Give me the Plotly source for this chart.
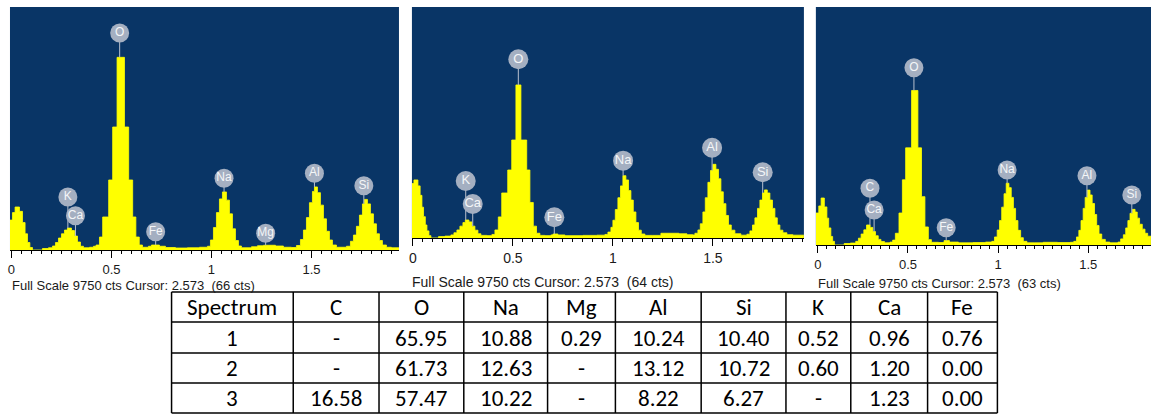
import numpy as np
import plotly.graph_objects as go

W, H = 1151, 414

# ---------------- spectrum data (energy keV step edges, counts) ----------------
E1 = [-0.0075, 0.005, 0.018, 0.04, 0.055, 0.068, 0.08, 0.092, 0.105, 0.155, 0.185, 0.205,
      0.22, 0.235, 0.25, 0.265, 0.28, 0.30, 0.315, 0.33, 0.345, 0.36, 0.39, 0.41,
      0.423, 0.44, 0.456, 0.486, 0.506, 0.528, 0.565, 0.586, 0.606, 0.622, 0.639, 0.655,
      0.685, 0.70, 0.74, 0.77, 0.82, 0.88, 0.94,
      0.98, 0.995, 1.01, 1.025, 1.04, 1.055, 1.075, 1.09, 1.105, 1.12, 1.135, 1.15,
      1.20, 1.23, 1.26, 1.32, 1.36, 1.40,
      1.425, 1.445, 1.46, 1.475, 1.49, 1.505, 1.515, 1.53, 1.545, 1.56, 1.575, 1.59, 1.605, 1.625,
      1.675, 1.695, 1.71, 1.725, 1.74, 1.755, 1.765, 1.78, 1.795, 1.81, 1.825, 1.84, 1.855, 1.875,
      1.90, 1.94]
C1 = [1200, 1500, 1725, 1550, 1100, 650, 300, 100, 0, 60, 90, 160,
      300, 480, 650, 800, 880, 780, 560, 320, 150, 90, 110, 150,
      200, 520, 1325, 2810, 4935, 7730, 4935, 2810, 1325, 520, 200, 110,
      150, 200, 150, 100, 80, 90, 110,
      150, 400, 900, 1500, 2050, 2330, 2000, 1450, 850, 380, 160, 90,
      130, 170, 190, 160, 110, 100,
      180, 420, 800, 1300, 1900, 2350, 2530, 2300, 1800, 1250, 750, 400, 200, 110,
      150, 350, 600, 950, 1400, 1850, 2030, 1850, 1450, 1050, 650, 380, 200, 110,
      90, 90]

E2 = [-0.005, 0.005, 0.025, 0.036, 0.045, 0.053, 0.062, 0.07, 0.08, 0.09, 0.128, 0.16,
      0.19, 0.205, 0.22, 0.235, 0.25, 0.262, 0.28, 0.295, 0.31, 0.325, 0.34, 0.37, 0.395,
      0.41, 0.427, 0.444, 0.474, 0.494, 0.515, 0.54, 0.569, 0.585, 0.602, 0.618, 0.635,
      0.66, 0.69, 0.70, 0.725, 0.76, 0.85, 0.92, 0.96,
      0.975, 0.99, 1.0, 1.012, 1.025, 1.038, 1.05, 1.065, 1.078, 1.09, 1.102, 1.115, 1.128, 1.142, 1.16,
      1.20, 1.24, 1.33, 1.37, 1.40,
      1.41, 1.425, 1.437, 1.45, 1.462, 1.475, 1.488, 1.50, 1.515, 1.528, 1.54, 1.552, 1.565, 1.578,
      1.592, 1.61, 1.64,
      1.67, 1.685, 1.698, 1.71, 1.723, 1.735, 1.748, 1.758, 1.772, 1.785, 1.798, 1.81, 1.822, 1.835,
      1.85, 1.87, 1.90, 1.955]
C2 = [2300, 2450, 2200, 1800, 1300, 900, 550, 300, 100, 0, 60, 80,
      130, 220, 340, 500, 650, 760, 680, 500, 330, 180, 110, 100, 150,
      340, 890, 1900, 2870, 4135, 6460, 4135, 2870, 1500, 500, 200, 110,
      100, 130, 170, 130, 100, 110, 120, 150,
      250, 450, 750, 1200, 1700, 2200, 2630, 2450, 2000, 1600, 1100, 650, 330, 170, 110,
      110, 200, 180, 140, 130,
      200, 340, 600, 1100, 1700, 2350, 2850, 3110, 2900, 2500, 1950, 1450, 950, 550,
      330, 180, 120,
      160, 300, 550, 850, 1250, 1600, 1900, 2030, 1900, 1600, 1250, 850, 550, 330,
      220, 140, 120, 120]

E3 = [-0.011, 0.005, 0.018, 0.036, 0.05, 0.06, 0.072, 0.082, 0.092, 0.146, 0.18,
      0.21, 0.225, 0.24, 0.255, 0.27, 0.29, 0.305, 0.32, 0.335, 0.35, 0.37, 0.40,
      0.415, 0.43, 0.45, 0.469, 0.487, 0.52, 0.555, 0.575, 0.594, 0.613, 0.63,
      0.67, 0.70, 0.73, 0.78, 0.86, 0.93,
      0.965, 0.98, 0.995, 1.008, 1.02, 1.033, 1.045, 1.06, 1.073, 1.085, 1.097, 1.11, 1.125, 1.14, 1.16,
      1.20, 1.25, 1.33, 1.40,
      1.42, 1.435, 1.448, 1.46, 1.472, 1.483, 1.495, 1.51, 1.522, 1.535, 1.547, 1.56, 1.575, 1.595, 1.62,
      1.665, 1.68, 1.695, 1.708, 1.72, 1.732, 1.745, 1.76, 1.772, 1.785, 1.80, 1.815, 1.83, 1.848]
C3 = [1310, 1600, 1925, 1560, 1100, 700, 350, 150, 0, 60, 80,
      150, 280, 450, 620, 820, 720, 550, 380, 230, 140, 90, 120,
      200, 480, 1310, 2670, 3980, 6330, 3980, 1980, 740, 220, 110,
      100, 180, 120, 90, 100, 120,
      150, 330, 615, 1000, 1550, 2100, 2530, 2350, 1950, 1500, 1000, 600, 300, 150, 90,
      90, 110, 100, 110,
      150, 330, 600, 1000, 1500, 1950, 2250, 2050, 1700, 1250, 800, 450, 230, 120, 90,
      120, 250, 420, 700, 1000, 1300, 1460, 1350, 1100, 850, 650, 480, 360, 290]

FULL_SCALE = 9750
CAPTIONS = ["Full Scale 9750 cts Cursor: 2.573  (66 cts)",
            "Full Scale 9750 cts Cursor: 2.573  (64 cts)",
            "Full Scale 9750 cts Cursor: 2.573  (63 cts)"]

# element markers per spectrum
LAB1 = ["O", "K", "Ca", "Fe", "Na", "Mg", "Al", "Si"]
LAB1_E = [0.541, 0.282, 0.320, 0.721, 1.063, 1.271, 1.515, 1.762]
LAB2 = ["O", "K", "Ca", "Fe", "Na", "Al", "Si"]
LAB2_E = [0.527, 0.264, 0.299, 0.707, 1.051, 1.496, 1.749]
LAB3 = ["O", "C", "Ca", "Fe", "Na", "Al", "Si"]
LAB3_E = [0.533, 0.289, 0.312, 0.712, 1.050, 1.493, 1.742]

# ---------------- table data ----------------
TABLE_HEADER = ["Spectrum", "C", "O", "Na", "Mg", "Al", "Si", "K", "Ca", "Fe"]
ROW1 = ["1", "-", "65.95", "10.88", "0.29", "10.24", "10.40", "0.52", "0.96", "0.76"]
ROW2 = ["2", "-", "61.73", "12.63", "-", "13.12", "10.72", "0.60", "1.20", "0.00"]
ROW3 = ["3", "16.58", "57.47", "10.22", "-", "8.22", "6.27", "-", "1.23", "0.00"]

# ---------------- layout (pixel geometry) ----------------
PANELS = [
    dict(l=7, r=397, t=7, b=250, x0=8.5, k=200.5, E=E1, C=C1, lab=LAB1, labE=LAB1_E,
         labY=[8707, 2127, 1376, 734, 2877, 670, 3077, 2580], msize=19, fs=12, cap=(7, 285)),
    dict(l=410, r=803, t=7, b=238, x0=411, k=200.5, E=E2, C=C2, lab=LAB2, labE=LAB2_E,
         labY=[7543, 2406, 1435, 874, 3263, 3811, 2773], msize=20, fs=13, cap=(408, 281.5)),
    dict(l=815, r=1151, t=7, b=245, x0=817, k=180.7, E=E3, C=C3, lab=LAB3, labE=LAB3_E,
         labY=[7263, 2323, 1434, 709, 3072, 2839, 2048], msize=19, fs=12, cap=(815, 283)),
]

BLUE = "#093566"
YELLOW = "#ffff00"

fig = go.Figure()
annotations = []
shapes = []

for i, p in enumerate(PANELS):
    n = "" if i == 0 else str(i + 1)
    xa, ya = "x" + n, "y" + n
    xr = [(p["l"] - p["x0"]) / p["k"], (p["r"] - p["x0"]) / p["k"]]
    fig.add_trace(go.Scatter(x=p["E"], y=p["C"], mode="lines",
                             line=dict(color=YELLOW, width=0.8, shape="hv"),
                             fill="tozeroy", fillcolor=YELLOW, xaxis=xa, yaxis=ya,
                             hoverinfo="skip"))
    lx, ly = [], []
    E_arr = np.array(p["E"]); C_arr = np.array(p["C"])
    for e, yv in zip(p["labE"], p["labY"]):
        idx = np.searchsorted(E_arr, e, side="right") - 1
        top = C_arr[max(idx, 0)]
        lx += [e, e, None]
        ly += [yv, top, None]
    fig.add_trace(go.Scatter(x=lx, y=ly, mode="lines", line=dict(color="#b9c1ce", width=1),
                             xaxis=xa, yaxis=ya, hoverinfo="skip"))
    fig.add_trace(go.Scatter(x=p["labE"], y=p["labY"], mode="markers+text", text=p["lab"],
                             textposition="middle center",
                             textfont=dict(color="#f4f6f8", size=p["fs"], family="Liberation Sans"),
                             marker=dict(size=p["msize"], color="#a4afc1", line=dict(width=0)),
                             xaxis=xa, yaxis=ya, hoverinfo="skip"))
    xkey = "xaxis" + n
    ykey = "yaxis" + n
    fig.update_layout(**{
        xkey: dict(domain=[p["l"] / W, p["r"] / W], range=xr, anchor=ya,
                   showline=True, linecolor="black", linewidth=1, showgrid=False, zeroline=False,
                   ticks="outside", ticklen=7, tickcolor="black", tickwidth=1,
                   tick0=0, dtick=0.5,
                   minor=dict(dtick=0.05, tick0=0, ticks="outside", ticklen=3, tickcolor="black"),
                   tickfont=dict(family="Liberation Sans", size=p["fs"] + 1, color="#1a1a1a"),
                   fixedrange=True),
        ykey: dict(domain=[1 - p["b"] / H, 1 - p["t"] / H], range=[0, FULL_SCALE], anchor=xa,
                   visible=False, fixedrange=True),
    })
    annotations.append(dict(text=CAPTIONS[i], xref="paper", yref="paper",
                            x=p["cap"][0] / W, y=1 - p["cap"][1] / H, xanchor="left", yanchor="middle",
                            showarrow=False,
                            font=dict(family="Liberation Sans", size=p["fs"] + 1, color="#1a1a1a")))

# ---------------- table ----------------
COLX = [169, 291, 377, 462, 546, 614, 700, 785, 850, 927, 997]
ROWY = [292, 322, 353, 383, 413]
for x in COLX:
    shapes.append(dict(type="line", xref="paper", yref="paper", x0=x / W, x1=x / W,
                       y0=1 - ROWY[0] / H, y1=1 - ROWY[-1] / H, line=dict(color="black", width=1.5)))
for y in ROWY:
    shapes.append(dict(type="line", xref="paper", yref="paper", x0=COLX[0] / W, x1=COLX[-1] / W,
                       y0=1 - y / H, y1=1 - y / H, line=dict(color="black", width=1.5)))
for r, row in enumerate([TABLE_HEADER, ROW1, ROW2, ROW3]):
    yc = (ROWY[r] + ROWY[r + 1]) / 2
    for c, val in enumerate(row):
        xc = (COLX[c] + COLX[c + 1]) / 2
        annotations.append(dict(text=val, xref="paper", yref="paper", x=xc / W, y=1 - yc / H,
                                xanchor="center", yanchor="middle", showarrow=False,
                                font=dict(family="Carlito, Liberation Sans Narrow, Liberation Sans",
                                          size=23, color="black")))

fig.update_layout(width=W, height=H, margin=dict(l=0, r=0, t=0, b=0),
                  paper_bgcolor="white", plot_bgcolor=BLUE, showlegend=False,
                  annotations=annotations, shapes=shapes)

fig.write_html("out.html", config={"displayModeBar": False},
               post_script="document.body.style.margin='0';document.body.style.overflow='hidden';")
